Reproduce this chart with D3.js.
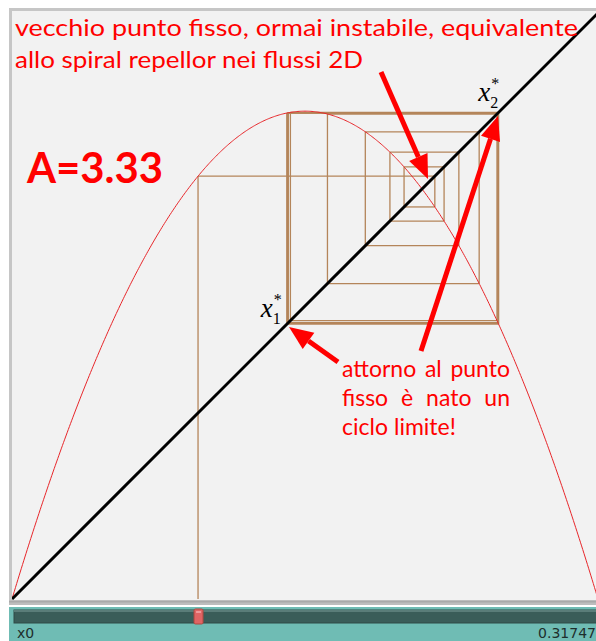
<!DOCTYPE html>
<html>
<head>
<meta charset="utf-8">
<script src="https://cdn.jsdelivr.net/npm/d3@7/dist/d3.min.js"></script>
<style>
  html, body { margin: 0; padding: 0; background: #ffffff; }
  svg { display: block; }
</style>
</head>
<body>
<script>
// Logistic map parameter and starting value
const A = 3.33;
const x0 = 0.31747;

// Orbit x0, x1, x2, ... of x -> A x (1 - x), spiralling out to the 2-cycle
const orbit = [0.31747, 0.72155, 0.66904, 0.73735, 0.64491, 0.76257, 0.60292,
               0.79723, 0.53832, 0.82761, 0.47509, 0.83043, 0.46891, 0.82928,
               0.47144, 0.82979, 0.47033, 0.82957, 0.47081, 0.82966];

// Points of the 2-cycle that are labelled
const cyclePoints = [0.4707, 0.8296];
const cycleLabels = ["1", "2"];

// Annotation texts
const topNote = ["vecchio punto fisso, ormai instabile, equivalente",
                 "allo spiral repellor nei flussi 2D"];
const sideNote = ["attorno al punto", "fisso è nato un", "ciclo limite!"];
const sliderName = "x0";

const W = 596, H = 641;
const svg = d3.select("body").append("svg").attr("width", W).attr("height", H);

// plot frame
svg.append("rect").attr("x", 10.5).attr("y", 9.5).attr("width", 600).attr("height", 592)
  .attr("fill", "#f2f2f2").attr("stroke", "#c6c6c6").attr("stroke-width", 3);
svg.append("rect").attr("x", 9).attr("y", 600).attr("width", 590).attr("height", 5)
  .attr("fill", "#bdbdbd");
svg.append("rect").attr("x", 9).attr("y", 601).attr("width", 590).attr("height", 1.5)
  .attr("fill", "#a9a9a9");

svg.append("defs").append("clipPath").attr("id", "plot")
  .append("rect").attr("x", 12).attr("y", 11).attr("width", 590).attr("height", 589);

const x = d3.scaleLinear().domain([0, 1]).range([12, 598]);
const y = d3.scaleLinear().domain([0, 1]).range([599, 13]);

const g = svg.append("g").attr("clip-path", "url(#plot)");

// cobweb: up from the axis, then alternate to the diagonal and the curve
const web = [[orbit[0], 0]];
for (let i = 0; i < orbit.length - 1; i++) {
  web.push([orbit[i], orbit[i + 1]]);
  web.push([orbit[i + 1], orbit[i + 1]]);
}
for (let i = 0; i < web.length - 1; i++) {
  g.append("line")
    .attr("x1", x(web[i][0])).attr("y1", y(web[i][1]))
    .attr("x2", x(web[i + 1][0])).attr("y2", y(web[i + 1][1]))
    .attr("stroke", "#b4855a").attr("stroke-width", 1.3);
}

// the map itself
const f = v => A * v * (1 - v);
g.append("path")
  .datum(d3.range(0, 1.0001, 0.002))
  .attr("d", d3.line().x(d => x(d)).y(d => y(f(d))))
  .attr("fill", "none").attr("stroke", "#e8262a").attr("stroke-width", 1);

// bisector y = x
g.append("line")
  .attr("x1", x(0)).attr("y1", y(0)).attr("x2", x(1)).attr("y2", y(1))
  .attr("stroke", "#000").attr("stroke-width", 3);

// arrows
function arrow(x1, y1, x2, y2) {
  const a = Math.atan2(y2 - y1, x2 - x1);
  const hl = 24, hw = 10;
  const bx = x2 - hl * Math.cos(a), by = y2 - hl * Math.sin(a);
  svg.append("line").attr("x1", x1).attr("y1", y1).attr("x2", bx).attr("y2", by)
    .attr("stroke", "#ff0000").attr("stroke-width", 5);
  const nx = -Math.sin(a), ny = Math.cos(a);
  svg.append("path")
    .attr("d", `M${x2},${y2}L${bx + nx * hw},${by + ny * hw}L${bx - nx * hw},${by - ny * hw}Z`)
    .attr("fill", "#ff0000");
}
arrow(381, 72, 428, 179);
arrow(421, 351, 498, 116);
arrow(338, 362, 289, 327);

// labels of the cycle points: x with subscript index and a star above
cyclePoints.forEach((c, i) => {
  const px = x(c), py = y(c);
  const lx = i === 0 ? px - 27 : px - 20;
  const ly = i === 0 ? py - 6 : py - 12;
  const t = svg.append("text").attr("font-family", "Liberation Serif, serif").attr("fill", "#000");
  t.append("tspan").attr("x", lx).attr("y", ly).attr("font-size", 27)
    .attr("font-style", "italic").text("x");
  t.append("tspan").attr("x", lx + 12).attr("y", ly + 7).attr("font-size", 16).text(cycleLabels[i]);
  t.append("tspan").attr("x", lx + 13).attr("y", ly - 12).attr("font-size", 16).text("*");
});

// notes
const topText = svg.append("g").attr("font-family", "Lato, sans-serif").attr("fill", "#ff0000");
topText.append("text").attr("x", 15).attr("y", 36).attr("font-size", 24)
  .attr("textLength", 563).attr("lengthAdjust", "spacingAndGlyphs").text(topNote[0]);
topText.append("text").attr("x", 15).attr("y", 68).attr("font-size", 24)
  .attr("textLength", 348).attr("lengthAdjust", "spacingAndGlyphs").text(topNote[1]);

svg.append("text").attr("x", 27).attr("y", 183).attr("font-family", "Lato, sans-serif")
  .attr("font-weight", "bold").attr("font-size", 42).attr("fill", "#ff0000")
  .attr("textLength", 136).attr("lengthAdjust", "spacingAndGlyphs").text("A=" + A.toFixed(2));

// justified block
function justified(line, left, right, base, justify) {
  const words = line.split(" ");
  const nodes = words.map(w => svg.append("text").attr("y", base)
    .attr("font-family", "Lato, sans-serif").attr("font-size", 23).attr("fill", "#ff0000").text(w));
  const widths = nodes.map(n => n.node().getComputedTextLength());
  const total = d3.sum(widths);
  const gap = justify ? (right - left - total) / (words.length - 1) : 6;
  let cx = left;
  nodes.forEach((n, i) => { n.attr("x", cx); cx += widths[i] + gap; });
}
justified(sideNote[0], 342, 510, 377, true);
justified(sideNote[1], 342, 510, 406, true);
justified(sideNote[2], 342, 510, 435, false);

// slider panel
svg.append("rect").attr("x", 9).attr("y", 607).attr("width", 590).attr("height", 34).attr("fill", "#6fbcb4");
svg.append("rect").attr("x", 14).attr("y", 610).attr("width", 590).attr("height", 13)
  .attr("fill", "#3a5d59").attr("stroke", "#2f4a47").attr("stroke-width", 1);
svg.append("rect").attr("x", 14).attr("y", 610).attr("width", 590).attr("height", 2).attr("fill", "#5a7d79");
const sx = d3.scaleLinear().domain([0, 1]).range([x(0), x(1)]);
svg.append("rect").attr("x", sx(x0) - 4).attr("y", 609).attr("width", 9).attr("height", 15).attr("rx", 1.5)
  .attr("fill", "#e06464").attr("stroke", "#b0483f").attr("stroke-width", 1);
svg.append("rect").attr("x", sx(x0) - 2).attr("y", 611).attr("width", 5).attr("height", 2).attr("fill", "#f09a9a");

svg.append("text").attr("x", 17).attr("y", 638).attr("font-family", "DejaVu Sans, sans-serif")
  .attr("font-size", 14).attr("fill", "#1e2e2c").text(sliderName);
svg.append("text").attr("x", 596).attr("y", 638).attr("text-anchor", "end")
  .attr("font-family", "DejaVu Sans, sans-serif").attr("font-size", 14).attr("fill", "#1e2e2c")
  .text(x0.toFixed(5));
</script>
</body>
</html>
